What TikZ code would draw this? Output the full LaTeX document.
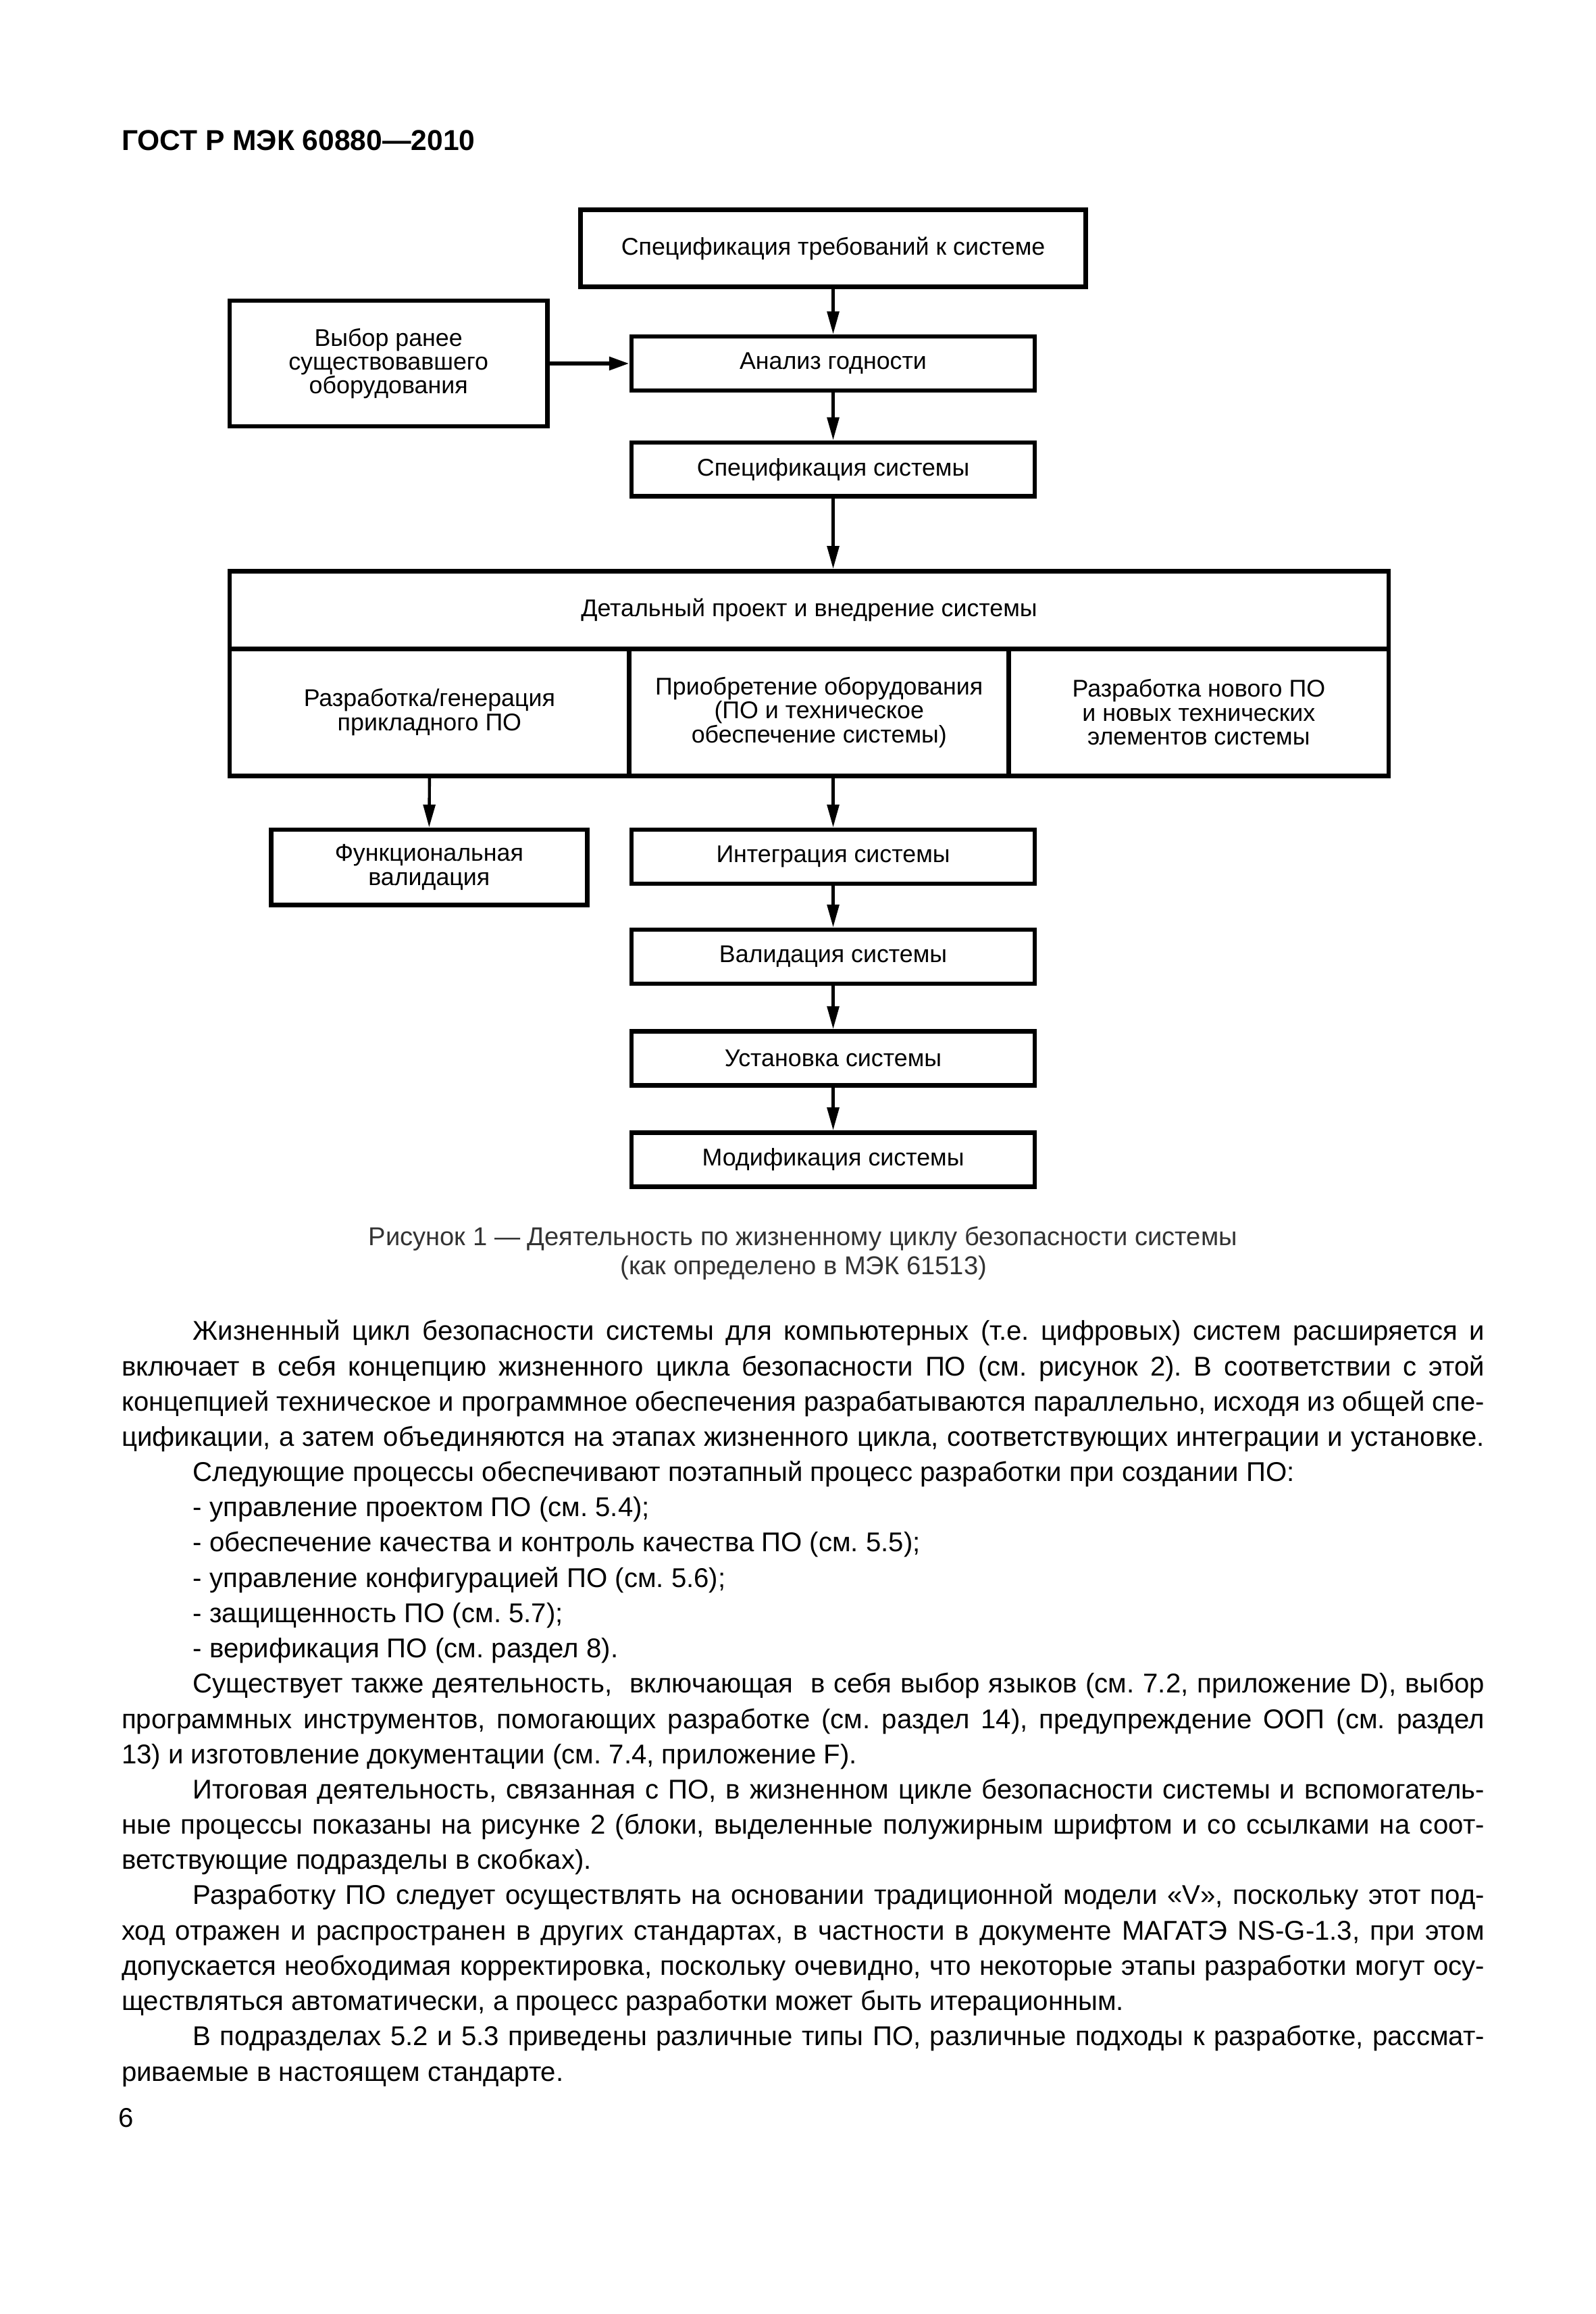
\documentclass[tikz,border=0pt]{standalone}
\usepackage{fontspec}
\setmainfont{Liberation Sans}
\usepackage{graphicx}
\usetikzlibrary{arrows.meta}
\frenchspacing
\newsavebox\lbox
\newlength\fullw \setlength\fullw{507.4pt}
\newlength\indw \setlength\indw{480.9pt}
\newcommand\jline[2]{\sbox\lbox{#2}\ifdim\wd\lbox>#1\relax\resizebox{#1}{\height}{\usebox\lbox}\else\makebox[#1][s]{#2}\fi}
\newcommand\bodyfont{\fontsize{10.1}{13}\selectfont}
\newcommand\boxfont{\fontsize{9}{8.9}\selectfont}
% line placers
\newcommand\lnIJ[3]{\node[bodyline] (#1) at (130.3,#2) {\jline{\indw}{#3}};}
\newcommand\lnFJ[3]{\node[bodyline] (#1) at (82,#2) {\jline{\fullw}{#3}};}
\newcommand\lnIL[3]{\node[bodyline] (#1) at (130.3,#2) {#3};}
\newcommand\lnFL[3]{\node[bodyline] (#1) at (82,#2) {#3};}
\begin{document}
\begin{tikzpicture}[x=0.55pt,y=-0.55pt,
  box/.style={draw, line width=1.7pt, inner sep=0pt, align=center, font=\boxfont},
  arr/.style={-{Triangle[length=8.5pt,width=4.4pt]}, line width=1.1pt},
  thickarr/.style={-{Triangle[length=7.5pt,width=4.8pt]}, line width=1.5pt},
  bodyline/.style={anchor=base west, inner sep=0pt, font=\bodyfont},
  caption/.style={anchor=base, inner sep=0pt, font=\fontsize{9.6}{11}\selectfont, text=black!80}]
\useasboundingbox[fill=white] (0,0) rectangle (1080,1566);

% header
\node[anchor=base west, inner sep=0pt, font=\bfseries\fontsize{10.7}{12}\selectfont] (hdr) at (82,101.5) {ГОСТ Р МЭК 60880—2010};

% boxes
\node[box, minimum width=188.1pt, minimum height=28.6pt] (B1) at (564,168) {Спецификация требований к системе};
\node[box, minimum width=118.25pt, minimum height=46.75pt] (B2) at (263,246) {Выбор ранее\\существовавшего\\оборудования};
\node[box, minimum width=150.15pt, minimum height=20.1pt] (B3) at (564,246) {Анализ годности};
\node[box, minimum width=150.15pt, minimum height=20.1pt] (B4) at (564,317.7) {Спецификация системы};
\node[box, minimum width=431.5pt, minimum height=28.9pt] (T) at (547.75,412.75) {Детальный проект и внедрение системы};
\node[box, minimum width=148.8pt, minimum height=47.3pt] (C1) at (290.75,482) {Разработка/генерация\\прикладного ПО};
\node[box, minimum width=141.35pt, minimum height=47.3pt] (C2) at (554.5,482) {Приобретение оборудования\\(ПО и техническое\\обеспечение системы)};
\node[box, minimum width=141.35pt, minimum height=47.3pt] (C3) at (811.5,482) {Разработка нового ПО\\и новых технических\\элементов системы};
\node[box, minimum width=117.7pt, minimum height=28.05pt] (F) at (290.5,587) {Функциональная\\валидация};
\node[box, minimum width=150.15pt, minimum height=20.1pt] (I) at (564,579.75) {Интеграция системы};
\node[box, minimum width=150.15pt, minimum height=20.1pt] (V) at (564,647.4) {Валидация системы};
\node[box, minimum width=150.15pt, minimum height=20.1pt] (U) at (564,716.25) {Установка системы};
\node[box, minimum width=150.15pt, minimum height=20.1pt] (M) at (564,784.75) {Модификация системы};

% connectors
\draw[arr] (B1.south) -- (B3.north);
\draw[thickarr] (B2.east) -- (B3.west);
\draw[arr] (B3.south) -- (B4.north);
\draw[arr] (B4.south) -- (B4.south |- T.north);
\draw[arr] (C1.south) -- (F.north);
\draw[arr] (I.north |- C2.south) -- (I.north);
\draw[arr] (I.south) -- (V.north);
\draw[arr] (V.south) -- (U.north);
\draw[arr] (U.south) -- (M.north);

% caption
\node[caption] (cap1) at (543.5,843) {Рисунок 1 — Деятельность по жизненному циклу безопасности системы};
\node[caption] (cap2) at (544,862.5) {(как определено в МЭК 61513)};

% body text
\lnIJ{l1}{907.0}{Жизненный цикл безопасности системы для компьютерных (т.е. цифровых) систем расширяется и}
\lnFJ{l2}{930.9}{включает в себя концепцию жизненного цикла безопасности ПО (см. рисунок 2). В соответствии с этой}
\lnFJ{l3}{954.7}{концепцией техническое и программное обеспечения разрабатываются параллельно, исходя из общей спе-}
\lnFJ{l4}{978.6}{цификации, а затем объединяются на этапах жизненного цикла, соответствующих интеграции и установке.}
\lnIL{l5}{1002.5}{Следующие процессы обеспечивают поэтапный процесс разработки при создании ПО:}
\lnIL{l6}{1026.4}{- управление проектом ПО (см. 5.4);}
\lnIL{l7}{1050.2}{- обеспечение качества и контроль качества ПО (см. 5.5);}
\lnIL{l8}{1074.1}{- управление конфигурацией ПО (см. 5.6);}
\lnIL{l9}{1098.0}{- защищенность ПО (см. 5.7);}
\lnIL{l10}{1121.8}{- верификация ПО (см. раздел 8).}
\lnIJ{l11}{1145.7}{Существует также деятельность,~ включающая~ в себя выбор языков (см. 7.2, приложение D), выбор}
\lnFJ{l12}{1169.6}{программных инструментов, помогающих разработке (см. раздел 14), предупреждение ООП (см. раздел}
\lnFL{l13}{1193.4}{13) и изготовление документации (см. 7.4, приложение F).}
\lnIJ{l14}{1217.3}{Итоговая деятельность, связанная с ПО, в жизненном цикле безопасности системы и вспомогатель-}
\lnFJ{l15}{1241.2}{ные процессы показаны на рисунке 2 (блоки, выделенные полужирным шрифтом и со ссылками на соот-}
\lnFL{l16}{1265.1}{ветствующие подразделы в скобках).}
\lnIJ{l17}{1288.9}{Разработку ПО следует осуществлять на основании традиционной модели «V», поскольку этот под-}
\lnFJ{l18}{1312.8}{ход отражен и распространен в других стандартах, в частности в документе МАГАТЭ NS-G-1.3, при этом}
\lnFJ{l19}{1336.7}{допускается необходимая корректировка, поскольку очевидно, что некоторые этапы разработки могут осу-}
\lnFL{l20}{1360.5}{ществляться автоматически, а процесс разработки может быть итерационным.}
\lnIJ{l21}{1384.4}{В подразделах 5.2 и 5.3 приведены различные типы ПО, различные подходы к разработке, рассмат-}
\lnFL{l22}{1408.3}{риваемые в настоящем стандарте.}

% page number
\node[bodyline] (pg) at (80,1439.5) {6};
\end{tikzpicture}
\end{document}
